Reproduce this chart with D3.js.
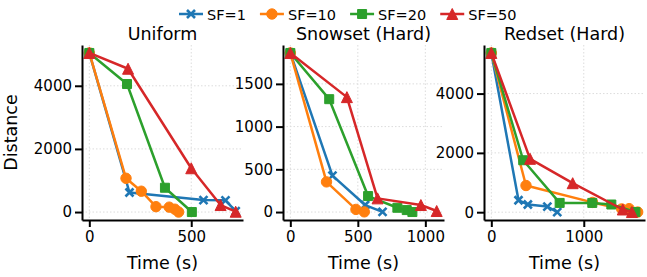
<!DOCTYPE html>
<html>
<head>
<meta charset="utf-8">
<script src="https://cdn.jsdelivr.net/npm/d3@7.9.0/dist/d3.min.js"></script>
<style>
  body { margin: 0; background: #fff; }
  svg { display: block; font-family: "DejaVu Sans", sans-serif; }
</style>
</head>
<body>
<svg id="chart" width="647" height="277"></svg>
<script>
// series / panels
const seriesNames = ['SF=1', 'SF=10', 'SF=20', 'SF=50'];
const seriesColors = ['#1f77b4', '#ff7f0e', '#2ca02c', '#d62728'];
const seriesMarkers = ['x', 'circle', 'square', 'triangle'];
const panelTitles = ['Uniform', 'Snowset (Hard)', 'Redset (Hard)'];

// [time (s), distance]
const uniformSf1 = [[0, 5040], [197, 620], [560, 380], [668, 370], [718, 30]];
const uniformSf10 = [[0, 5040], [180, 1070], [255, 660], [327, 170], [392, 155], [420, 90], [438, 0]];
const uniformSf20 = [[0, 5040], [185, 4055], [371, 770], [503, 0]];
const uniformSf50 = [[0, 5040], [190, 4540], [500, 1387], [644, 222], [718, 10]];

const snowsetSf1 = [[0, 1862], [312, 427], [554, 82], [683, 2]];
const snowsetSf10 = [[0, 1862], [268, 353], [486, 31], [548, 2]];
const snowsetSf20 = [[0, 1862], [288, 1321], [576, 187], [793, 50], [862, 23], [904, 0]];
const snowsetSf50 = [[0, 1862], [419, 1345], [646, 160], [967, 82], [1084, 12]];

const redsetSf1 = [[0, 5370], [294, 404], [395, 259], [606, 190], [713, 5]];
const redsetSf10 = [[0, 5370], [375, 900], [1095, 330], [1410, 110], [1490, 120], [1583, 5]];
const redsetSf20 = [[0, 5370], [345, 1752], [739, 313], [1092, 313], [1298, 259], [1558, 5]];
const redsetSf50 = [[0, 5370], [419, 1800], [880, 978], [1422, 91], [1521, 5]];

const xTickValues = [[0, 500], [0, 500, 1000], [0, 1000]];
const yTickValues = [[0, 2000, 4000], [0, 500, 1000, 1500], [0, 2000, 4000]];

const panelData = [
    [uniformSf1, uniformSf10, uniformSf20, uniformSf50],
    [snowsetSf1, snowsetSf10, snowsetSf20, snowsetSf50],
    [redsetSf1, redsetSf10, redsetSf20, redsetSf50]
];

// layout
const panelLeft = 82, panelStep = 201, panelWidth = 161;
const panelTop = 45, panelBottom = 220;

const svg = d3.select('#chart');

// pad extent by 5% like matplotlib
function padded(ext) {
    const pad = (ext[1] - ext[0]) * 0.05;
    return [ext[0] - pad, ext[1] + pad];
}

function markerPath(type) {
    if (type === 'x') return 'M-4,-4L4,4M-4,4L4,-4';
    if (type === 'square') return 'M-4.5,-4.5H4.5V4.5H-4.5Z';
    if (type === 'triangle') return 'M0,-5.5L5.5,5.5H-5.5Z';
    return d3.symbol(d3.symbolCircle, Math.PI * 5.2 * 5.2)();
}

function drawMarker(g, type, color) {
    const p = g.append('path').attr('d', markerPath(type));
    if (type === 'x') {
        p.attr('fill', 'none').attr('stroke', color).attr('stroke-width', 2.6);
    } else {
        p.attr('fill', color).attr('stroke', color).attr('stroke-width', 1);
    }
    return p;
}

panelData.forEach((seriesList, pi) => {
    const x0 = panelLeft + pi * panelStep;
    const allPts = seriesList.flat();

    const x = d3.scaleLinear()
        .domain(padded(d3.extent(allPts, d => d[0])))
        .range([x0, x0 + panelWidth]);
    const y = d3.scaleLinear()
        .domain(padded(d3.extent(allPts, d => d[1])))
        .range([panelBottom, panelTop]);

    const g = svg.append('g');

    // dotted grid
    g.selectAll('.gx').data(xTickValues[pi]).join('line')
        .attr('x1', d => x(d)).attr('x2', d => x(d))
        .attr('y1', panelTop).attr('y2', panelBottom)
        .attr('stroke', '#dcdcdc').attr('stroke-width', 1)
        .attr('stroke-dasharray', '1.5,2');
    g.selectAll('.gy').data(yTickValues[pi]).join('line')
        .attr('x1', x0).attr('x2', x0 + panelWidth)
        .attr('y1', d => y(d)).attr('y2', d => y(d))
        .attr('stroke', '#dcdcdc').attr('stroke-width', 1)
        .attr('stroke-dasharray', '1.5,2');

    // lines + markers
    const line = d3.line().x(d => x(d[0])).y(d => y(d[1]));
    seriesList.forEach((pts, si) => {
        g.append('path')
            .datum(pts)
            .attr('d', line)
            .attr('fill', 'none')
            .attr('stroke', seriesColors[si])
            .attr('stroke-width', 2.5)
            .attr('stroke-linejoin', 'round');
        pts.forEach(pt => {
            drawMarker(g, seriesMarkers[si], seriesColors[si])
                .attr('transform', `translate(${x(pt[0])},${y(pt[1])})`);
        });
    });

    // axes
    const fmt = d3.format('d');
    const xAxis = g.append('g')
        .attr('transform', `translate(0,${panelBottom})`)
        .call(d3.axisBottom(x).tickValues(xTickValues[pi]).tickFormat(fmt)
            .tickSize(7).tickSizeOuter(0).tickPadding(4));
    const yAxis = g.append('g')
        .attr('transform', `translate(${x0},0)`)
        .call(d3.axisLeft(y).tickValues(yTickValues[pi]).tickFormat(fmt)
            .tickSize(7).tickSizeOuter(0).tickPadding(3));
    [xAxis, yAxis].forEach(a => {
        a.select('.domain').attr('stroke', '#000').attr('stroke-width', 2);
        a.selectAll('.tick line').attr('stroke', '#000').attr('stroke-width', 2);
        a.selectAll('.tick text')
            .attr('fill', '#000')
            .style('font-size', '15px')
            .style('font-family', '"DejaVu Sans", sans-serif');
    });

    // title + x label
    g.append('text')
        .attr('x', x0 + panelWidth / 2).attr('y', 40)
        .attr('text-anchor', 'middle')
        .style('font-size', '17.5px')
        .text(panelTitles[pi]);
    g.append('text')
        .attr('x', x0 + panelWidth / 2).attr('y', 269)
        .attr('text-anchor', 'middle')
        .style('font-size', '17.5px')
        .text('Time (s)');
});

// y label
svg.append('text')
    .attr('transform', `translate(17,${(panelTop + panelBottom) / 2}) rotate(-90)`)
    .attr('text-anchor', 'middle')
    .style('font-size', '17.5px')
    .text('Distance');

// legend across the top
const legend = svg.append('g').attr('transform', 'translate(179,14)');
let lx = 0;
seriesNames.forEach((name, si) => {
    const item = legend.append('g').attr('transform', `translate(${lx},0)`);
    item.append('line')
        .attr('x1', 0).attr('x2', 24).attr('y1', 0).attr('y2', 0)
        .attr('stroke', seriesColors[si]).attr('stroke-width', 2.5);
    drawMarker(item, seriesMarkers[si], seriesColors[si])
        .attr('transform', 'translate(12,0)');
    const t = item.append('text')
        .attr('x', 28).attr('y', 5.5)
        .style('font-size', '14.5px')
        .text(name);
    lx += 28 + t.node().getComputedTextLength() + 14;
});
</script>
</body>
</html>
